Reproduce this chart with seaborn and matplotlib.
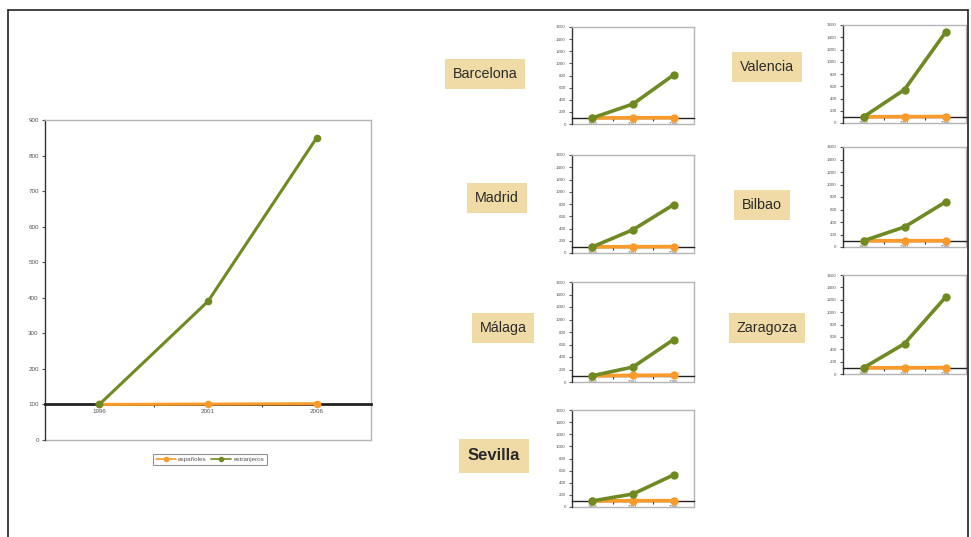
import matplotlib
matplotlib.use("Agg")
import matplotlib.pyplot as plt
from matplotlib.lines import Line2D
import pandas as pd
import seaborn as sns

# --- data -------------------------------------------------------------
years = ["1996", "2001", "2006"]
series_names = ["españoles", "extranjeros"]

# Spain overall (index, first year = 100)
spain_espanoles = [100, 101, 102]
spain_extranjeros = [100, 390, 850]

# Cities (index, first year = 100)
cities = ["Barcelona", "Valencia", "Madrid", "Bilbao", "Málaga", "Zaragoza", "Sevilla"]
city_espanoles = {
    "Barcelona": [100, 102, 104],
    "Valencia": [100, 104, 106],
    "Madrid": [100, 103, 104],
    "Bilbao": [100, 100, 101],
    "Málaga": [100, 106, 110],
    "Zaragoza": [100, 101, 104],
    "Sevilla": [100, 103, 105],
}
city_extranjeros = {
    "Barcelona": [100, 330, 810],
    "Valencia": [100, 545, 1480],
    "Madrid": [100, 380, 790],
    "Bilbao": [100, 320, 720],
    "Málaga": [100, 240, 680],
    "Zaragoza": [100, 490, 1240],
    "Sevilla": [100, 215, 530],
}

main_yticks = list(range(0, 901, 100))
city_yticks = list(range(0, 1601, 200))

# --- style ------------------------------------------------------------
ORANGE = "#f99a2a"
GREEN = "#6f8a22"
W, H = 971, 537

sns.set_style("white")
plt.rcParams["font.family"] = ["Liberation Sans", "DejaVu Sans"]

fig = plt.figure(figsize=(W / 100, H / 100), dpi=100)


def px_axes(left, top, right, bottom):
    return fig.add_axes([left / W, 1 - bottom / H, (right - left) / W, (bottom - top) / H])


def draw_panel(ax, esp, ext, yticks, lw, ms, fs, base_lw):
    df = pd.DataFrame({
        "año": years * 2,
        "valor": esp + ext,
        "serie": [series_names[0]] * len(years) + [series_names[1]] * len(years),
    })
    sns.lineplot(data=df, x="año", y="valor", hue="serie",
                 palette={series_names[0]: ORANGE, series_names[1]: GREEN},
                 marker="o", markersize=ms, markeredgewidth=0, linewidth=lw,
                 sort=False, legend=False, ax=ax)
    for ln in ax.lines:
        ln.set_zorder(4)
    ax.set_xlim(-0.5, len(years) - 0.5)
    ax.set_ylim(yticks[0], yticks[-1])
    ax.set_yticks(yticks)
    ax.set_yticklabels([str(v) for v in yticks])
    ax.set_xticks(range(len(years)))
    ax.set_xticklabels(years)
    ax.set_xticks([i + 0.5 for i in range(len(years) - 1)], minor=True)
    ax.set_xlabel("")
    ax.set_ylabel("")
    # category axis crosses the value axis at the base index
    ax.spines["bottom"].set_position(("data", esp[0]))
    ax.spines["bottom"].set_color("#222222")
    ax.spines["bottom"].set_linewidth(base_lw)
    ax.spines["left"].set_color("#333333")
    ax.spines["left"].set_linewidth(1.0)
    for s in ("top", "right"):
        ax.spines[s].set_color("#b5b5b5")
        ax.spines[s].set_linewidth(1.0)
    ax.plot([0, 1], [0, 0], transform=ax.transAxes, color="#b5b5b5",
            linewidth=1.0, clip_on=False)
    ax.tick_params(axis="y", which="major", length=2.5, width=0.8,
                   direction="out", labelsize=fs, colors="#555555", pad=2, left=True)
    ax.tick_params(axis="x", which="major", length=0, labelsize=fs,
                   labelcolor="#555555", pad=3)
    ax.tick_params(axis="x", which="minor", length=2.5, width=0.8,
                   direction="out", color="#333333", bottom=True)


# Main chart: Spain
ax_main = px_axes(45, 120, 371, 440)
draw_panel(ax_main, spain_espanoles, spain_extranjeros, main_yticks,
           lw=2.2, ms=5.5, fs=4.5, base_lw=2.0)

handles = [
    Line2D([], [], color=ORANGE, marker="o", markersize=3, linewidth=1.2),
    Line2D([], [], color=GREEN, marker="o", markersize=3, linewidth=1.2),
]
leg = fig.legend(handles, series_names, loc="center",
                 bbox_to_anchor=(210 / W, 1 - 459 / H), ncol=2, fontsize=4.5,
                 frameon=True, fancybox=False, edgecolor="#777777",
                 handlelength=3.2, columnspacing=0.8, borderpad=0.45,
                 handletextpad=0.3)
leg.get_frame().set_linewidth(0.8)
for t in leg.get_texts():
    t.set_color("#555555")

# City panels: axes box in pixels and label box centre
city_layout = {
    "Barcelona": ((572, 27, 694, 124), (485, 74)),
    "Valencia": ((843, 25, 966, 123), (767, 67)),
    "Madrid": ((572, 155, 694, 253), (497, 198)),
    "Bilbao": ((843, 147, 966, 247), (762, 205)),
    "Málaga": ((572, 282, 694, 382), (503, 328)),
    "Zaragoza": ((843, 275, 966, 374), (767, 328)),
    "Sevilla": ((572, 410, 694, 507), (494, 456)),
}

for city in cities:
    box, (cx, cy) = city_layout[city]
    ax = px_axes(*box)
    draw_panel(ax, city_espanoles[city], city_extranjeros[city], city_yticks,
               lw=2.6, ms=6, fs=3.2, base_lw=1.0)
    big = city == "Sevilla"
    fig.text(cx / W, 1 - cy / H, city, ha="center", va="center",
             fontsize=12 if big else 10.3, fontweight="bold" if big else "medium",
             color="#2a2a2a",
             bbox=dict(boxstyle="square,pad=0.55", fc="#f0dba6", ec="none"))

# Page frame
frame_kw = dict(color="#222222", linewidth=1.2, transform=fig.transFigure)
fig.add_artist(Line2D([8 / W, 8 / W], [0, 1 - 10 / H], **frame_kw))
fig.add_artist(Line2D([8 / W, 968 / W], [1 - 10 / H, 1 - 10 / H], **frame_kw))
fig.add_artist(Line2D([968 / W, 968 / W], [0, 1 - 10 / H], **frame_kw))

fig.savefig("out.png", dpi=100)
